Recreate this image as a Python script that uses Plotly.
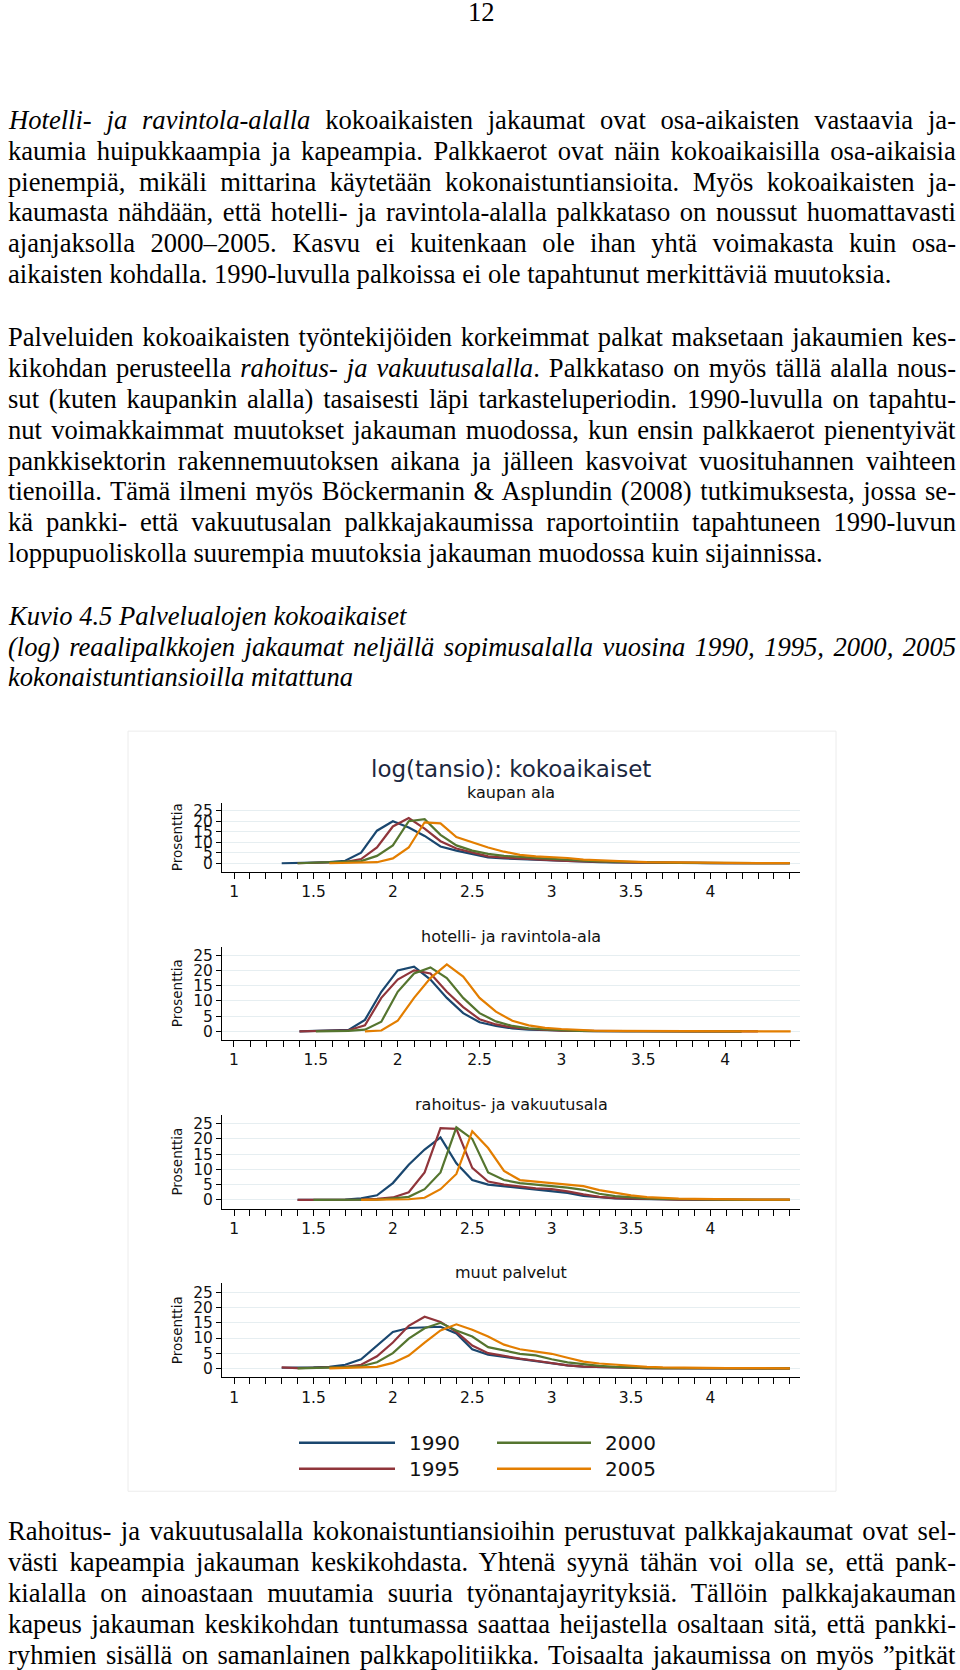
import plotly.graph_objects as go

W, H = 960, 1670

# ---------------- data ----------------
x_vals = [1.3, 1.4, 1.5, 1.6, 1.7, 1.8, 1.9,
          2.0, 2.1, 2.2, 2.3, 2.4, 2.5, 2.6, 2.7, 2.8, 2.9,
          3.0, 3.1, 3.2, 3.3, 3.4, 3.5, 3.6, 3.7, 3.8, 3.9,
          4.0, 4.1, 4.2, 4.3, 4.4, 4.5]

years = ["1990", "1995", "2000", "2005"]
colors = ["#1a476f", "#90353b", "#55752f", "#e37e00"]

kauppa_1990 = [0, 0, 0.3, 0.5, 1.2, 5.0, 15.5,
               20.0, 17.0, 13.0, 8.0, 6.0, 4.5, 2.8, 2.3, 2.0, 1.7,
               1.3, 1.0, 0.6, 0.5, 0.4, 0.3, 0.2, 0.2, 0.1, 0.1,
               0.1, 0.1, 0.1, 0.1, 0, 0]
kauppa_1995 = [None, 0, 0.3, 0.4, 0.6, 2.0, 7.5,
               17.5, 21.5, 16.5, 10.5, 7.0, 5.0, 3.3, 2.7, 2.2, 1.9,
               1.5, 1.1, 0.8, 0.6, 0.5, 0.4, 0.3, 0.2, 0.2, 0.1,
               0.1, 0.1, 0.1, 0.1, 0.1, 0]
kauppa_2000 = [None, 0, 0.2, 0.3, 0.5, 1.0, 3.5,
               8.5, 20.0, 21.0, 13.5, 8.5, 6.0, 4.5, 3.5, 3.0, 2.5,
               2.0, 1.6, 1.2, 0.9, 0.7, 0.5, 0.4, 0.3, 0.2, 0.2,
               0.1, 0.1, 0.1, 0.1, 0.1, 0]
kauppa_2005 = [None, None, None, 0, 0.1, 0.3, 0.5,
               2.3, 7.5, 19.5, 19.0, 12.5, 10.0, 7.5, 5.5, 4.0, 3.3,
               3.0, 2.5, 1.7, 1.3, 1.0, 0.8, 0.5, 0.4, 0.3, 0.3,
               0.2, 0.2, 0.1, 0.1, 0.1, 0.1]

hotelli_1990 = [None, 0, 0.1, 0.2, 0.5, 3.8, 13.0,
                20.0, 21.2, 17.0, 11.0, 6.0, 3.0, 1.8, 1.0, 0.6, 0.4,
                0.3, 0.2, 0.1, 0.1, 0.1, 0.1, 0.1, 0, 0, 0,
                0, 0, None, None, None, None]
hotelli_1995 = [None, 0, 0.1, 0.2, 0.4, 2.0, 11.0,
                17.0, 20.0, 19.0, 13.0, 8.0, 4.0, 2.3, 1.3, 0.8, 0.5,
                0.3, 0.2, 0.1, 0.1, 0.1, 0.1, 0, 0, 0, 0,
                0, 0, 0, None, None, None]
hotelli_2000 = [None, None, 0, 0.1, 0.2, 0.6, 3.2,
                13.0, 19.0, 21.0, 17.5, 11.0, 6.0, 3.3, 1.8, 1.0, 0.6,
                0.4, 0.2, 0.1, 0.1, 0.1, 0.1, 0.1, 0, 0, 0,
                0, 0, None, None, None, None]
hotelli_2005 = [None, None, None, None, None, 0, 0.3,
                3.5, 11.0, 17.5, 22.0, 18.0, 11.0, 6.5, 3.5, 2.0, 1.2,
                0.8, 0.5, 0.3, 0.2, 0.2, 0.1, 0.1, 0.1, 0, 0,
                0, 0, 0, 0, 0, None]

rahoitus_1990 = [None, 0, 0, 0, 0.1, 0.5, 1.5,
                 5.5, 11.5, 16.5, 20.5, 12.0, 6.5, 5.0, 4.5, 4.0, 3.5,
                 3.0, 2.3, 1.3, 0.8, 0.5, 0.3, 0.2, 0.1, 0.1, 0.1,
                 0, 0, 0, 0, 0, 0]
rahoitus_1995 = [None, 0, 0, 0, 0, 0.1, 0.3,
                 0.8, 2.5, 9.0, 23.5, 23.3, 10.5, 6.0, 5.0, 4.3, 3.8,
                 3.5, 2.8, 1.8, 1.0, 0.6, 0.4, 0.3, 0.2, 0.1, 0.1,
                 0, 0, 0, 0, 0, 0]
rahoitus_2000 = [None, None, 0, 0, 0, 0, 0.1,
                 0.5, 1.0, 3.5, 9.0, 23.8, 20.0, 9.0, 6.5, 5.5, 5.0,
                 4.7, 4.0, 3.3, 2.0, 1.2, 0.8, 0.5, 0.3, 0.2, 0.1,
                 0.1, 0, 0, 0, 0, 0]
rahoitus_2005 = [None, None, None, None, None, 0, 0,
                 0.1, 0.2, 0.7, 3.5, 8.5, 22.5, 17.0, 9.5, 6.5, 6.0,
                 5.6, 5.0, 4.5, 3.2, 2.3, 1.5, 0.9, 0.6, 0.4, 0.3,
                 0.2, 0.1, 0.1, 0.1, 0.1, 0.1]

muut_1990 = [0.2, 0.2, 0.3, 0.5, 1.2, 3.0, 7.5,
             12.0, 13.3, 13.5, 13.7, 11.5, 6.3, 4.5, 3.8, 3.0, 2.3,
             1.5, 1.0, 0.6, 0.4, 0.3, 0.2, 0.1, 0.1, 0.1, 0,
             0, 0, 0, 0, 0, 0]
muut_1995 = [0.3, 0.1, 0.2, 0.3, 0.5, 1.2, 4.0,
             8.5, 14.0, 17.0, 15.3, 12.0, 7.5, 5.0, 4.0, 3.2, 2.5,
             1.7, 1.0, 0.6, 0.4, 0.3, 0.2, 0.1, 0.1, 0.1, 0,
             0, 0, 0, 0, 0, 0]
muut_2000 = [None, 0, 0.1, 0.2, 0.4, 0.7, 2.0,
             5.0, 9.8, 13.2, 15.0, 12.5, 10.5, 7.0, 5.8, 4.8, 4.3,
             3.0, 2.0, 1.3, 0.8, 0.5, 0.3, 0.2, 0.1, 0.1, 0.1,
             0, 0, 0, 0, 0, 0]
muut_2005 = [None, None, None, 0, 0.1, 0.2, 0.5,
             1.8, 4.2, 8.5, 12.5, 14.5, 12.7, 10.5, 7.8, 6.3, 5.5,
             4.8, 3.5, 2.2, 1.6, 1.2, 0.8, 0.5, 0.3, 0.2, 0.2,
             0.1, 0.1, 0.1, 0.1, 0.1, 0]

panel_titles = ["kaupan ala", "hotelli- ja ravintola-ala",
                "rahoitus- ja vakuutusala", "muut palvelut"]
panel_series = [
    [kauppa_1990, kauppa_1995, kauppa_2000, kauppa_2005],
    [hotelli_1990, hotelli_1995, hotelli_2000, hotelli_2005],
    [rahoitus_1990, rahoitus_1995, rahoitus_2000, rahoitus_2005],
    [muut_1990, muut_1995, muut_2000, muut_2005],
]
x_ticks = [1, 1.5, 2, 2.5, 3, 3.5, 4]
x_ticktext = ["1", "1.5", "2", "2.5", "3", "3.5", "4"]
y_ticks = [0, 5, 10, 15, 20, 25]
y_ticktext = ["0", "5", "10", "15", "20", "25"]

main_title = "log(tansio): kokoaikaiset"
y_title = "Prosenttia"

page_number = "12"
para1 = [
    "<i>Hotelli- ja ravintola-alalla</i> kokoaikaisten jakaumat ovat osa-aikaisten vastaavia ja-",
    "kaumia huipukkaampia ja kapeampia. Palkkaerot ovat näin kokoaikaisilla osa-aikaisia",
    "pienempiä, mikäli mittarina käytetään kokonaistuntiansioita. Myös kokoaikaisten ja-",
    "kaumasta nähdään, että hotelli- ja ravintola-alalla palkkataso on noussut huomattavasti",
    "ajanjaksolla 2000–2005. Kasvu ei kuitenkaan ole ihan yhtä voimakasta kuin osa-",
    "aikaisten kohdalla. 1990-luvulla palkoissa ei ole tapahtunut merkittäviä muutoksia.",
]
para2 = [
    "Palveluiden kokoaikaisten työntekijöiden korkeimmat palkat maksetaan jakaumien kes-",
    "kikohdan perusteella <i>rahoitus- ja vakuutusalalla</i>. Palkkataso on myös tällä alalla nous-",
    "sut (kuten kaupankin alalla) tasaisesti läpi tarkasteluperiodin. 1990-luvulla on tapahtu-",
    "nut voimakkaimmat muutokset jakauman muodossa, kun ensin palkkaerot pienentyivät",
    "pankkisektorin rakennemuutoksen aikana ja jälleen kasvoivat vuosituhannen vaihteen",
    "tienoilla. Tämä ilmeni myös Böckermanin &amp; Asplundin (2008) tutkimuksesta, jossa se-",
    "kä pankki- että vakuutusalan palkkajakaumissa raportointiin tapahtuneen 1990-luvun",
    "loppupuoliskolla suurempia muutoksia jakauman muodossa kuin sijainnissa.",
]
caption = [
    "<i>Kuvio 4.5 Palvelualojen kokoaikaiset</i>",
    "<i>(log) reaalipalkkojen jakaumat neljällä sopimusalalla vuosina 1990, 1995, 2000, 2005</i>",
    "<i>kokonaistuntiansioilla mitattuna</i>",
]
para3 = [
    "Rahoitus- ja vakuutusalalla kokonaistuntiansioihin perustuvat palkkajakaumat ovat sel-",
    "västi kapeampia jakauman keskikohdasta. Yhtenä syynä tähän voi olla se, että pank-",
    "kialalla on ainoastaan muutamia suuria työnantajayrityksiä. Tällöin palkkajakauman",
    "kapeus jakauman keskikohdan tuntumassa saattaa heijastella osaltaan sitä, että pankki-",
    "ryhmien sisällä on samanlainen palkkapolitiikka. Toisaalta jakaumissa on myös ”pitkät",
]

# ---------------- layout helpers ----------------
def px(xp):
    return xp / W

def py(yp):
    return 1 - yp / H

SERIF = "Liberation Serif, Times New Roman, serif"
SANS = "DejaVu Sans, Arial, sans-serif"
TXT = 26.6

x_dom = [px(222), px(800)]
panels_geom = [
    # (top px, bottom px, yrange, xrange, subtitle y px)
    (802.7, 871.7, [-4.0, 28.8], [0.924, 4.564], 792),
    (946.7, 1040.0, [-2.72, 27.81], [0.927, 4.457], 937),
    (1115.0, 1209.0, [-2.85, 27.95], [0.924, 4.564], 1105),
    (1284.0, 1377.7, [-2.86, 27.96], [0.924, 4.564], 1273),
]

fig = go.Figure()
layout = dict(
    width=W, height=H,
    margin=dict(l=0, r=0, t=0, b=0),
    paper_bgcolor="white", plot_bgcolor="white",
    showlegend=False,
)

annotations = []
justify_idx = []

for i, (top, bot, yr, xr, sub_y) in enumerate(panels_geom):
    n = i + 1
    xa = "x" if n == 1 else f"x{n}"
    ya = "y" if n == 1 else f"y{n}"
    for s, (vals, name, col) in enumerate(zip(panel_series[i], years, colors)):
        fig.add_trace(go.Scatter(
            x=x_vals, y=vals, mode="lines", name=name,
            line=dict(color=col, width=2.2),
            xaxis=xa, yaxis=ya, hoverinfo="skip",
        ))
    layout["xaxis" if n == 1 else f"xaxis{n}"] = dict(
        domain=x_dom, anchor=ya, range=xr,
        showline=True, linecolor="black", linewidth=1,
        showgrid=False, zeroline=False,
        tickmode="array", tickvals=x_ticks, ticktext=x_ticktext,
        ticks="outside", ticklen=6, tickwidth=1, tickcolor="black",
        minor=dict(tickmode="linear", tick0=1, dtick=0.1, ticks="outside",
                   ticklen=6, tickwidth=1, tickcolor="black", showgrid=False),
        tickfont=dict(family=SANS, size=15.5, color="#111"),
    )
    layout["yaxis" if n == 1 else f"yaxis{n}"] = dict(
        domain=[py(bot), py(top)], anchor=xa, range=yr,
        showline=True, linecolor="black", linewidth=1,
        showgrid=True, gridcolor="#e6eef1", gridwidth=1, zeroline=False,
        tickmode="array", tickvals=y_ticks, ticktext=y_ticktext,
        ticks="outside", ticklen=5, tickwidth=1, tickcolor="black",
        tickfont=dict(family=SANS, size=15.5, color="#111"),
    )
    annotations.append(dict(
        text=panel_titles[i], x=px(511), y=py(sub_y), xref="paper", yref="paper",
        xanchor="center", yanchor="middle", showarrow=False,
        font=dict(family=SANS, size=16, color="#111")))
    annotations.append(dict(
        text=y_title, x=px(177), y=py((top + bot) / 2), xref="paper", yref="paper",
        xanchor="center", yanchor="middle", showarrow=False, textangle=-90,
        font=dict(family=SANS, size=13.5, color="#111")))

annotations.append(dict(
    text=main_title, x=px(511), y=py(769), xref="paper", yref="paper",
    xanchor="center", yanchor="middle", showarrow=False,
    font=dict(family=SANS, size=23, color="#1c2740")))

# legend (manual, two columns)
legend_pos = [(299, 395, 1443.5), (299, 395, 1469.5), (497, 591, 1443.5), (497, 591, 1469.5)]
shapes = []
for (x0, x1, yy), name, col in zip(legend_pos, years, colors):
    shapes.append(dict(type="line", xref="paper", yref="paper",
                       x0=px(x0), x1=px(x1), y0=py(yy), y1=py(yy),
                       line=dict(color=col, width=2.5)))
    annotations.append(dict(
        text=name, x=px(x1 + 12), y=py(yy), xref="paper", yref="paper",
        xanchor="left", yanchor="middle", showarrow=False,
        font=dict(family=SANS, size=20, color="#111")))

# chart frame
shapes.append(dict(type="rect", xref="paper", yref="paper",
                   x0=px(128), x1=px(836), y0=py(1492), y1=py(731),
                   line=dict(color="#ececec", width=1), layer="below"))

# page number
annotations.append(dict(
    text=page_number, x=px(481.5), y=py(11.5), xref="paper", yref="paper",
    xanchor="center", yanchor="middle", showarrow=False,
    font=dict(family=SERIF, size=TXT, color="black")))

def add_lines(lines, y_first, spacing, justify=None):
    for k, line in enumerate(lines):
        annotations.append(dict(
            text=line, x=px(6), y=py(y_first + k * spacing), xref="paper", yref="paper",
            xanchor="left", yanchor="middle", align="left", showarrow=False,
            font=dict(family=SERIF, size=TXT, color="black")))
        if k in justify:
            justify_idx.append(len(annotations) - 1)

add_lines(para1, 119.0, 30.9, justify=[0, 1, 2, 3, 4])
add_lines(para2, 336.5, 30.9, justify=[0, 1, 2, 3, 4, 5, 6])
add_lines(caption, 615.5, 30.9, justify=[1])
add_lines(para3, 1532.0, 30.9, justify=[0, 1, 2, 3, 4])

layout["annotations"] = annotations
layout["shapes"] = shapes
fig.update_layout(**layout)

RIGHT = 956
post = """
document.body.style.margin = '0';
document.body.style.padding = '0';
var gd = document.getElementById('{plot_id}');
var R = gd.getBoundingClientRect();
var J = %s;
J.forEach(function(i) {
  var t = gd.querySelector('g.annotation[data-index="' + i + '"] text.annotation-text');
  if (!t) return;
  var b = t.getBoundingClientRect();
  var left = b.left - R.left;
  var n = (t.textContent.match(/ /g) || []).length;
  if (n > 0) {
    var extra = (%d - left - b.width) / n;
    t.style.wordSpacing = extra + 'px';
  }
});
""" % (str(justify_idx), RIGHT)

fig.write_html("out.html", post_script=post, config={"displayModeBar": False, "responsive": False})
